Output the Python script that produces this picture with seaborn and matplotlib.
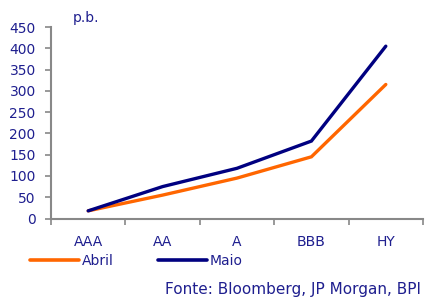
import pandas as pd
import matplotlib.pyplot as plt
import seaborn as sns
from matplotlib.ticker import FixedLocator

ratings = ["AAA", "AA", "A", "BBB", "HY"]
abril = [18, 55, 95, 145, 315]
maio = [18, 75, 118, 182, 405]

TEXT = "#1f1f8f"
ORANGE = "#FF6600"
NAVY = "#000080"
FS = 10

sns.set_theme(style="white")
plt.rcParams["font.family"] = ["DejaVu Sans"]

df = pd.DataFrame({
    "rating": ratings * 2,
    "spread": abril + maio,
    "serie": ["Abril"] * len(ratings) + ["Maio"] * len(ratings),
})

fig = plt.figure(figsize=(4.26, 2.97), dpi=100)
ax = fig.add_axes([0.1197, 0.2643, 0.8733, 0.6447])
sns.lineplot(data=df, x="rating", y="spread", hue="serie",
             palette={"Abril": ORANGE, "Maio": NAVY}, linewidth=2.4,
             ax=ax, legend=False, solid_capstyle="round", solid_joinstyle="miter")

ax.set_xlim(-0.5, 4.5)
ax.set_ylim(0, 450)
ax.set_yticks(range(0, 451, 50))
ax.set_xticks(range(len(ratings)))
ax.set_xticklabels(ratings)
ax.xaxis.set_minor_locator(FixedLocator([i - 0.5 for i in range(len(ratings) + 1)]))
ax.tick_params(axis="x", which="major", length=0, pad=12, labelsize=FS, colors=TEXT)
ax.tick_params(axis="x", which="minor", length=4, width=1.2, color="#888888", bottom=True)
ax.tick_params(axis="y", length=4, width=1.2, color="#888888", left=True,
               pad=7, labelsize=FS, labelcolor=TEXT)
ax.set(xlabel="", ylabel="")
for s in ["top", "right"]:
    ax.spines[s].set_visible(False)
for s in ["left", "bottom"]:
    ax.spines[s].set_color("#888888")
    ax.spines[s].set_linewidth(1.5)

fig.text(0.171, 0.915, "p.b.", color=TEXT, fontsize=FS, ha="left", va="bottom")

handles = [plt.Line2D([], [], color=ORANGE, lw=2.6, solid_capstyle="round"),
           plt.Line2D([], [], color=NAVY, lw=2.6, solid_capstyle="round")]
fig.legend(handles, ["Abril", "Maio"], loc="center left", bbox_to_anchor=(0.058, 0.12),
           ncol=2, frameon=False, handlelength=3.5, handletextpad=0.2,
           columnspacing=3.2, fontsize=FS, labelcolor=TEXT, borderaxespad=0)

fig.text(0.988, 0.0, "Fonte: Bloomberg, JP Morgan, BPI", color=TEXT,
         fontsize=11, ha="right", va="bottom")

fig.savefig("out.png", dpi=100)
